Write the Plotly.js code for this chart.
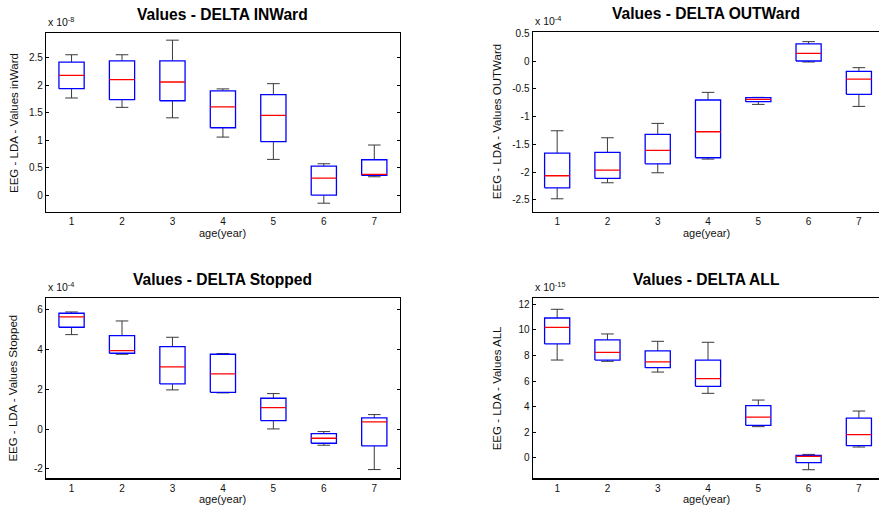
<!DOCTYPE html>
<html>
<head>
<meta charset="utf-8">
<script src="https://cdn.plot.ly/plotly-3.0.1.min.js"></script>
<style>html,body{margin:0;padding:0;background:#fff;}#chart{width:879px;height:505px;}</style>
</head>
<body>
<div id="chart"></div>
<script>
// ---- data (in the axis' scaled units) ----
const ages = [1, 2, 3, 4, 5, 6, 7];

// DELTA INWard (x 1e-8)
const inLo  = [1.77, 1.60, 1.41, 1.06, 0.655, -0.14, 0.34];
const inQ1  = [1.94, 1.74, 1.72, 1.23, 0.977, 0.006, 0.364];
const inMed = [2.18, 2.105, 2.06, 1.61, 1.456, 0.316, 0.382];
const inQ3  = [2.42, 2.445, 2.445, 1.90, 1.83, 0.534, 0.649];
const inHi  = [2.555, 2.555, 2.82, 1.935, 2.03, 0.576, 0.916];

// DELTA OUTWard (x 1e-4)
const outLo  = [-2.482, -2.193, -2.013, -1.767, -0.781, -0.017, -0.817];
const outQ1  = [-2.284, -2.115, -1.851, -1.742, -0.732, 0.001, -0.600];
const outMed = [-2.067, -1.965, -1.610, -1.274, -0.690, 0.139, -0.324];
const outQ3  = [-1.658, -1.646, -1.322, -0.702, -0.660, 0.308, -0.185];
const outHi  = [-1.256, -1.382, -1.123, -0.564, -0.654, 0.350, -0.119];

// DELTA Stopped (x 1e-4)
const stLo  = [4.73, 3.745, 1.96, 1.81, 0.004, -0.814, -2.033];
const stQ1  = [5.098, 3.795, 2.26, 1.84, 0.42, -0.714, -0.848];
const stMed = [5.616, 3.93, 3.11, 2.76, 1.073, -0.463, 0.355];
const stQ3  = [5.80, 4.68, 4.13, 3.745, 1.54, -0.23, 0.555];
const stHi  = [5.866, 5.415, 4.597, 3.78, 1.775, -0.13, 0.722];

// DELTA ALL (x 1e-15)
const allLo  = [7.64, 7.54, 6.70, 5.035, 2.43, -0.94, 0.835];
const allQ1  = [8.90, 7.64, 7.04, 5.58, 2.53, -0.39, 0.94];
const allMed = [10.20, 8.24, 7.49, 6.18, 3.18, 0.10, 1.80];
const allQ3  = [10.93, 9.21, 8.35, 7.64, 4.07, 0.18, 3.10];
const allHi  = [11.61, 9.68, 9.105, 9.03, 4.51, 0.26, 3.65];

// tick values / labels
const xTickLabels = ['1', '2', '3', '4', '5', '6', '7'];
const inTicks = [0, 0.5, 1, 1.5, 2, 2.5];
const inTickText = ['0', '0.5', '1', '1.5', '2', '2.5'];
const outTicks = [-2.5, -2, -1.5, -1, -0.5, 0, 0.5];
const outTickText = ['-2.5', '-2', '-1.5', '-1', '-0.5', '0', '0.5'];
const stTicks = [-2, 0, 2, 4, 6];
const stTickText = ['-2', '0', '2', '4', '6'];
const allTicks = [0, 2, 4, 6, 8, 10, 12];
const allTickText = ['0', '2', '4', '6', '8', '10', '12'];

const titles = ['Values - DELTA INWard', 'Values - DELTA OUTWard', 'Values - DELTA Stopped', 'Values - DELTA ALL'];
const yTitles = ['EEG - LDA - Values inWard', 'EEG - LDA - Values OUTWard', 'EEG - LDA - Values Stopped', 'EEG - LDA - Values ALL'];
const xTitle = 'age(year)';
const exponents = ['-8', '-4', '-4', '-15'];

// ---- build ----
const FONT = 'Liberation Sans, Arial, Helvetica, sans-serif';
const HALF = 0.25;      // half box width (data units)
const CAP = 0.125;      // half whisker-cap width
const panels = [
  {lo: inLo, q1: inQ1, med: inMed, q3: inQ3, hi: inHi, tv: inTicks, tt: inTickText, xa: 'x', ya: 'y',
   xd: [0.0527, 0.4545], yd: [0.5802, 0.934], xr: [0.5, 7.5], yr: [-0.3, 2.944], cut: false},
  {lo: outLo, q1: outQ1, med: outMed, q3: outQ3, hi: outHi, tv: outTicks, tt: outTickText, xa: 'x2', ya: 'y2',
   xd: [0.6064, 1.0], yd: [0.5802, 0.936], xr: [0.52, 7.40], yr: [-2.72, 0.518], cut: true},
  {lo: stLo, q1: stQ1, med: stMed, q3: stQ3, hi: stHi, tv: stTicks, tt: stTickText, xa: 'x3', ya: 'y3',
   xd: [0.0527, 0.4545], yd: [0.0529, 0.4093], xr: [0.5, 7.5], yr: [-2.47, 6.55], cut: false},
  {lo: allLo, q1: allQ1, med: allMed, q3: allQ3, hi: allHi, tv: allTicks, tt: allTickText, xa: 'x4', ya: 'y4',
   xd: [0.6064, 1.0], yd: [0.0529, 0.4093], xr: [0.52, 7.40], yr: [-1.61, 12.47], cut: true}
];

function whiskerPath(p) {
  const x = [], y = [];
  ages.forEach((a, k) => {
    x.push(a, a, null, a - CAP, a + CAP, null, a, a, null, a - CAP, a + CAP, null);
    y.push(p.q3[k], p.hi[k], null, p.hi[k], p.hi[k], null, p.q1[k], p.lo[k], null, p.lo[k], p.lo[k], null);
  });
  return {x, y};
}
function boxPath(p) {
  const x = [], y = [];
  ages.forEach((a, k) => {
    x.push(a - HALF, a + HALF, a + HALF, a - HALF, a - HALF, null);
    y.push(p.q1[k], p.q1[k], p.q3[k], p.q3[k], p.q1[k], null);
  });
  return {x, y};
}
function medianPath(p) {
  const x = [], y = [];
  ages.forEach((a, k) => {
    x.push(a - HALF, a + HALF, null);
    y.push(p.med[k], p.med[k], null);
  });
  return {x, y};
}

const traces = [];
const layout = {
  width: 879, height: 505,
  margin: {l: 0, r: 0, t: 0, b: 0},
  paper_bgcolor: '#ffffff', plot_bgcolor: '#ffffff',
  showlegend: false,
  font: {family: FONT, size: 10, color: '#000'},
  annotations: []
};

panels.forEach((p, i) => {
  const common = {type: 'scatter', mode: 'lines', xaxis: p.xa, yaxis: p.ya, hoverinfo: 'skip', connectgaps: false};
  const w = whiskerPath(p), b = boxPath(p), m = medianPath(p);
  traces.push(Object.assign({}, common, {name: 'whiskers', x: w.x, y: w.y, line: {color: '#3a3a3a', width: 1}}));
  traces.push(Object.assign({}, common, {name: 'box', x: b.x, y: b.y, line: {color: '#0000ff', width: 1.3}}));
  traces.push(Object.assign({}, common, {name: 'median', x: m.x, y: m.y, line: {color: '#ff0000', width: 1.3}}));

  const sfx = i === 0 ? '' : String(i + 1);
  layout['xaxis' + sfx] = {
    domain: p.xd, range: p.xr, anchor: p.ya, tickvals: ages, ticktext: xTickLabels,
    ticks: '', showgrid: false, zeroline: false, showline: true, mirror: true,
    linecolor: '#000', linewidth: 1.5, tickfont: {size: 10, color: '#111'}, fixedrange: true
  };
  layout['yaxis' + sfx] = {
    domain: p.yd, range: p.yr, anchor: p.xa, tickvals: p.tv, ticktext: p.tt,
    ticks: 'inside', ticklen: 3, tickcolor: '#000', tickwidth: 1,
    showgrid: false, zeroline: false, showline: true, mirror: p.cut ? false : 'ticks',
    linecolor: '#000', linewidth: 1.5, tickfont: {size: 10, color: '#111'}, fixedrange: true
  };

  const xref = p.xa + ' domain', yref = p.ya + ' domain';
  layout.annotations.push({text: '<b>' + titles[i] + '</b>', xref: xref, yref: yref, x: 0.5, y: 1,
    xanchor: 'center', yanchor: 'bottom', yshift: 8, showarrow: false,
    font: {family: FONT, size: 15.6, color: '#000'}});
  layout.annotations.push({text: 'x 10<sup>' + exponents[i] + '</sup>', xref: xref, yref: yref, x: 0, y: 1,
    xanchor: 'left', yanchor: 'bottom', yshift: 3, showarrow: false,
    font: {family: FONT, size: 10.5, color: '#111'}});
  layout.annotations.push({text: xTitle, xref: xref, yref: yref, x: 0.5, y: 0,
    xanchor: 'center', yanchor: 'middle', yshift: -21, showarrow: false,
    font: {family: FONT, size: 11, color: '#111'}});
  layout.annotations.push({text: yTitles[i], xref: xref, yref: yref, x: 0, y: 0.5,
    xanchor: 'center', yanchor: 'middle', xshift: i % 2 === 0 ? -33 : -36, textangle: -90, showarrow: false,
    font: {family: FONT, size: 11.5, color: '#111'}});
});

Plotly.newPlot('chart', traces, layout, {staticPlot: true, displayModeBar: false});
</script>
</body>
</html>
